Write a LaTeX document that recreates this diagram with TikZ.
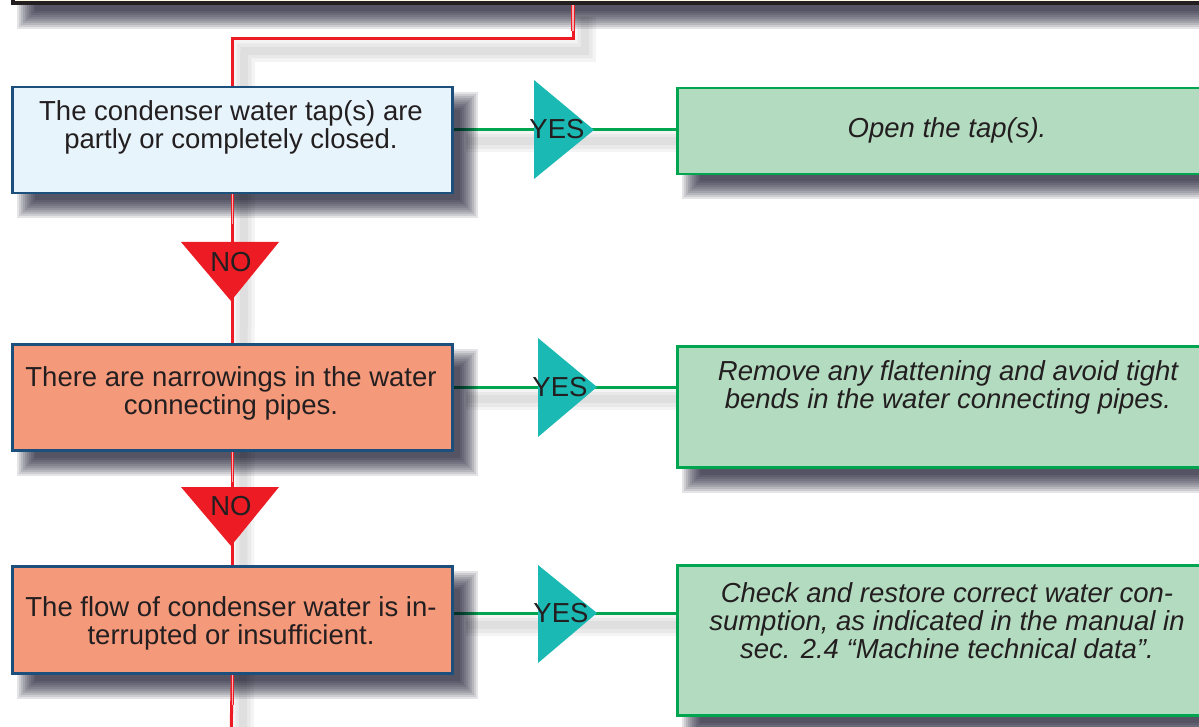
\documentclass[tikz,border=0pt]{standalone}
\usepackage{fontspec}
\setmainfont{Liberation Sans}
\usetikzlibrary{calc}
\definecolor{txtcol}{HTML}{231F20}
\definecolor{bluefill}{HTML}{E8F4FB}
\definecolor{blueedge}{HTML}{1D4F7C}
\definecolor{salmon}{HTML}{F5997B}
\definecolor{greenfill}{HTML}{B3DBC0}
\definecolor{greenedge}{HTML}{00A54F}
\definecolor{tealtri}{HTML}{1BB9B3}
\definecolor{redtri}{HTML}{ED1C24}
\definecolor{cream}{HTML}{FFF9E5}
\newcommand\softshadow[1]{%
  \foreach \e in {-9,-7,...,9}{%
    \fill[black!90!blue,opacity=0.105] ($(#1.north west)+(15-\e,15-\e)$) rectangle ($(#1.south east)+(15+\e,15+\e)$);}}
\begin{document}
\begin{tikzpicture}[x=1pt,y=-1pt,
  basebox/.style={rectangle,inner sep=0,anchor=north west},
  qbox/.style={basebox,draw=blueedge,line width=2.5pt,minimum width=440pt},
  abox/.style={basebox,draw=greenedge,fill=greenfill,line width=2.5pt,minimum width=700pt},
  topbox/.style={basebox,anchor=south west,draw=txtcol,fill=cream,line width=4pt,minimum width=1400pt,minimum height=80pt},
  txt/.style={font=\fontsize{27.5}{28}\selectfont,align=center,text=txtcol,inner sep=0},
  itxt/.style={txt,font=\fontsize{27.5}{28}\selectfont\itshape},
  lbl/.style={font=\fontsize{27.5}{28}\selectfont,text=txtcol,inner sep=0},
  redline/.style={draw=redtri,line width=3pt},
  redpale/.style={draw=redtri,line width=1pt,double=redtri!35!white,double distance=1.3pt},
  greenline/.style={draw=greenedge,line width=3pt},
  cshadow/.style={draw=black,opacity=0.045,line width=#1},
]
\useasboundingbox (0,0) rectangle (1199,727);
\clip (0,0) rectangle (1199,727);

% coordinates
\coordinate (tapoff) at (573,5);
\coordinate (r1) at (0,129.5);
\coordinate (r2) at (0,387);
\coordinate (r3) at (0,613);
\coordinate (endpt) at (231,740);

% box nodes (geometry only, drawn later)
\path node[topbox,draw=none,fill=none] (top) at (11,5) {}
      node[qbox,draw=none,minimum height=106pt] (b1) at (11,86) {}
      node[qbox,draw=none,minimum height=106pt] (b2) at (11,343) {}
      node[qbox,draw=none,minimum height=107pt] (b3) at (11,565) {}
      node[abox,draw=none,fill=none,minimum height=86pt] (g1) at (676,87) {}
      node[abox,draw=none,fill=none,minimum height=121pt] (g2) at (676,345) {}
      node[abox,draw=none,fill=none,minimum height=150pt] (g3) at (676,564) {};

% connector shadows
\coordinate (bend) at (b1.north |- 0,39);
\foreach \w in {22,15,8}{
  \draw[cshadow=\w pt] ($(tapoff)+(12,12)$) |- ($(bend)+(12,12)$) -- ($(endpt)+(12,0)$);
  \draw[cshadow=\w pt] ($(b1.east |- r1)+(12,12)$) -- ($(g1.west |- r1)+(12,12)$);
  \draw[cshadow=\w pt] ($(b2.east |- r2)+(12,12)$) -- ($(g2.west |- r2)+(12,12)$);
  \draw[cshadow=\w pt] ($(b3.east |- r3)+(12,12)$) -- ($(g3.west |- r3)+(12,12)$);
}

% green connectors
\draw[greenline] (b1.east |- r1) -- (g1.west |- r1);
\draw[greenline] (b2.east |- r2) -- (g2.west |- r2);
\draw[greenline] (b3.east |- r3) -- (g3.west |- r3);

% box shadows
\softshadow{top}
\softshadow{b1}
\softshadow{b2}
\softshadow{b3}
\softshadow{g1}
\softshadow{g2}
\softshadow{g3}

% red connectors
\draw[redline] (tapoff) |- (bend) -- (b1.north);
\draw[redline] (b1.south) -- (b2.north);
\draw[redline] (b2.south) -- (b3.north);
\draw[redline] (b3.south) -- (endpt);
\draw[redpale] (tapoff) -- ++(0,26);
\draw[redpale] (b1.south) -- ++(0,30);
\draw[redpale] (b2.south) -- ++(0,30);
\draw[redpale] (b3.south) -- ++(0,30);

% boxes
\node[topbox] (topd) at (top.south west) {};
\node[qbox,fill=bluefill,minimum height=106pt] (b1d) at (b1.north west) {};
\node[qbox,fill=salmon,minimum height=106pt] (b2d) at (b2.north west) {};
\node[qbox,fill=salmon,minimum height=107pt] (b3d) at (b3.north west) {};
\node[abox,minimum height=86pt] (g1d) at (g1.north west) {};
\node[abox,minimum height=121pt] (g2d) at (g2.north west) {};
\node[abox,minimum height=150pt] (g3d) at (g3.north west) {};

% triangles
\fill[tealtri] (534,80) -- (594,130) -- (534,179) -- cycle;
\fill[tealtri] (538,338) -- (597,387) -- (538,437) -- cycle;
\fill[tealtri] (538,565) -- (597,613) -- (538,663) -- cycle;
\fill[redtri] (181,242) -- (279,242) -- (231,301) -- cycle;
\fill[redtri] (181,487) -- (279,487) -- (231,546) -- cycle;

% labels
\node[lbl] (y1) at (557,129.5) {YES};
\node[lbl] (y2) at (560,387) {YES};
\node[lbl] (y3) at (561,613) {YES};
\node[lbl] (n1) at (231,262) {NO};
\node[lbl] (n2) at (231,506) {NO};

% texts
\node[txt] (t1) at (231,127.5) {The condenser water tap(s) are\\partly or completely closed.};
\node[txt] (t2) at (231,393) {There are narrowings in the water\\connecting pipes.};
\node[txt] (t3) at (231,623.5) {The flow of condenser water is in-\\terrupted or insufficient.};
\node[itxt] (a1) at (947,130.5) {Open the tap(s).};
\node[itxt] (a2) at (948,387) {Remove any flattening and avoid tight\\bends in the water connecting pipes.};
\node[itxt] (a3) at (947,620.5) {Check and restore correct water con-\\sumption, as indicated in the manual in\\sec. 2.4 “Machine technical data”.};
\end{tikzpicture}
\end{document}
